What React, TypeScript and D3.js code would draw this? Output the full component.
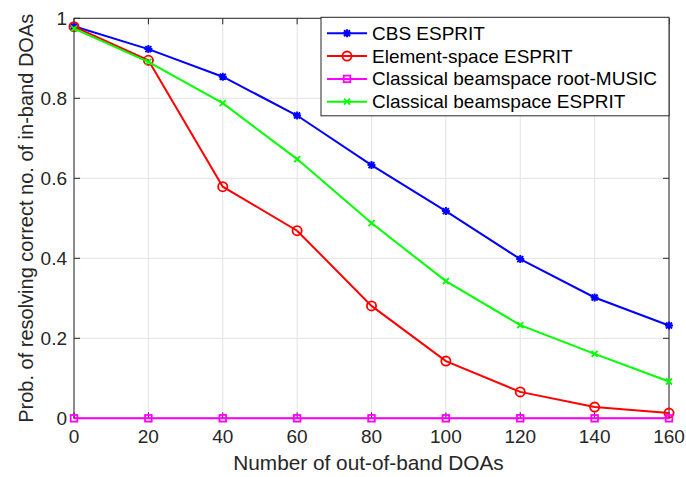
import React from "react";
import * as d3 from "d3";

const xValues = [0, 20, 40, 60, 80, 100, 120, 140, 160];
const cbsEsprit = [0.98, 0.923, 0.854, 0.757, 0.633, 0.518, 0.398, 0.302, 0.232];
const elementEsprit = [0.979, 0.895, 0.579, 0.469, 0.281, 0.143, 0.066, 0.028, 0.013];
const beamRootMusic = [0, 0, 0, 0, 0, 0, 0, 0, 0];
const beamEsprit = [0.974, 0.891, 0.788, 0.648, 0.488, 0.343, 0.233, 0.161, 0.092];
const xTicks = [0, 20, 40, 60, 80, 100, 120, 140, 160];
const yTicks = [0, 0.2, 0.4, 0.6, 0.8, 1];
const seriesNames = [
  "CBS ESPRIT",
  "Element-space ESPRIT",
  "Classical beamspace root-MUSIC",
  "Classical beamspace ESPRIT",
];
const seriesColors = ["#0000ff", "#ff0000", "#ff00ff", "#00ff00"];
const seriesMarkers = ["star", "circle", "square", "x"];
const seriesData = [cbsEsprit, elementEsprit, beamRootMusic, beamEsprit];

const W = 686;
const H = 477;
const M = { left: 74, right: 669, top: 18.3, bottom: 418.3 };
const FONT = "'Liberation Sans', Arial, Helvetica, sans-serif";
const TXT = "#262626";

function Marker({ type, x, y, color }: { type: string; x: number; y: number; color: string }) {
  if (type === "circle") {
    return <circle cx={x} cy={y} r={4.6} fill="none" stroke={color} strokeWidth={1.8} />;
  }
  if (type === "square") {
    return <rect x={x - 3.3} y={y - 3.3} width={6.6} height={6.6} fill="none" stroke={color} strokeWidth={1.8} />;
  }
  if (type === "x") {
    const s = 3;
    return (
      <path
        d={`M${x - s},${y - s}L${x + s},${y + s}M${x - s},${y + s}L${x + s},${y - s}`}
        stroke={color}
        strokeWidth={1.8}
      />
    );
  }
  const s = 4;
  const d = 3;
  return (
    <path
      d={`M${x - s},${y}L${x + s},${y}M${x},${y - s}L${x},${y + s}M${x - d},${y - d}L${x + d},${y + d}M${x - d},${y + d}L${x + d},${y - d}`}
      stroke={color}
      strokeWidth={2}
    />
  );
}

export default function App() {
  const x = d3.scaleLinear().domain([0, 160]).range([M.left, M.right]);
  const y = d3.scaleLinear().domain([0, 1]).range([M.bottom, M.top]);
  const line = d3
    .line<number>()
    .x((_, i) => x(xValues[i]))
    .y((v) => y(v));

  const legX = 321;
  const legY = 17.3;
  const legW = 348;
  const legH = 98.5;

  return (
    <svg
      width={W}
      height={H}
      style={{ position: "absolute", left: 0, top: 0, background: "#fff" }}
      fontFamily={FONT}
    >
      <rect x={0} y={0} width={W} height={H} fill="#fff" />
      {/* grid */}
      {xTicks.map((t) => (
        <line key={"gx" + t} x1={x(t)} x2={x(t)} y1={M.top} y2={M.bottom} stroke="#e3e3e3" strokeWidth={1} />
      ))}
      {yTicks.map((t) => (
        <line key={"gy" + t} x1={M.left} x2={M.right} y1={y(t)} y2={y(t)} stroke="#e3e3e3" strokeWidth={1} />
      ))}
      {/* ticks */}
      {xTicks.map((t) => (
        <g key={"tx" + t}>
          <line x1={x(t)} x2={x(t)} y1={M.bottom} y2={M.bottom - 6} stroke={TXT} />
          <line x1={x(t)} x2={x(t)} y1={M.top} y2={M.top + 6} stroke={TXT} />
          <text x={x(t)} y={443} textAnchor="middle" fontSize={19} fill={TXT}>
            {t}
          </text>
        </g>
      ))}
      {yTicks.map((t) => (
        <g key={"ty" + t}>
          <line x1={M.left} x2={M.left + 6} y1={y(t)} y2={y(t)} stroke={TXT} />
          <line x1={M.right} x2={M.right - 6} y1={y(t)} y2={y(t)} stroke={TXT} />
          <text x={67} y={y(t) + 6.8} textAnchor="end" fontSize={19} fill={TXT}>
            {d3.format("~g")(t)}
          </text>
        </g>
      ))}
      {/* box */}
      <rect
        x={M.left}
        y={M.top}
        width={M.right - M.left}
        height={M.bottom - M.top}
        fill="none"
        stroke={TXT}
        strokeWidth={1}
      />
      {/* series */}
      {seriesData.map((data, si) => (
        <g key={"s" + si}>
          <path d={line(data) || ""} fill="none" stroke={seriesColors[si]} strokeWidth={2} />
          {data.map((v, i) => (
            <Marker key={i} type={seriesMarkers[si]} x={x(xValues[i])} y={y(v)} color={seriesColors[si]} />
          ))}
        </g>
      ))}
      {/* axis labels */}
      <text x={368.5} y={470} textAnchor="middle" fontSize={20.8} fill={TXT}>
        Number of out-of-band DOAs
      </text>
      <text
        transform={`translate(32.5,${(M.top + M.bottom) / 2}) rotate(-90)`}
        textAnchor="middle"
        fontSize={20}
        fill={TXT}
      >
        Prob. of resolving correct no. of in-band DOAs
      </text>
      {/* legend */}
      <rect x={legX} y={legY} width={legW} height={legH} fill="#fff" stroke={TXT} strokeWidth={1} />
      {seriesNames.map((name, i) => {
        const cy = 33.3 + i * 22.8;
        return (
          <g key={"l" + i}>
            <line x1={327} x2={367} y1={cy} y2={cy} stroke={seriesColors[i]} strokeWidth={2} />
            <Marker type={seriesMarkers[i]} x={347} y={cy} color={seriesColors[i]} />
            <text x={372} y={cy + 6.5} fontSize={19} fill="#000">
              {name}
            </text>
          </g>
        );
      })}
    </svg>
  );
}
